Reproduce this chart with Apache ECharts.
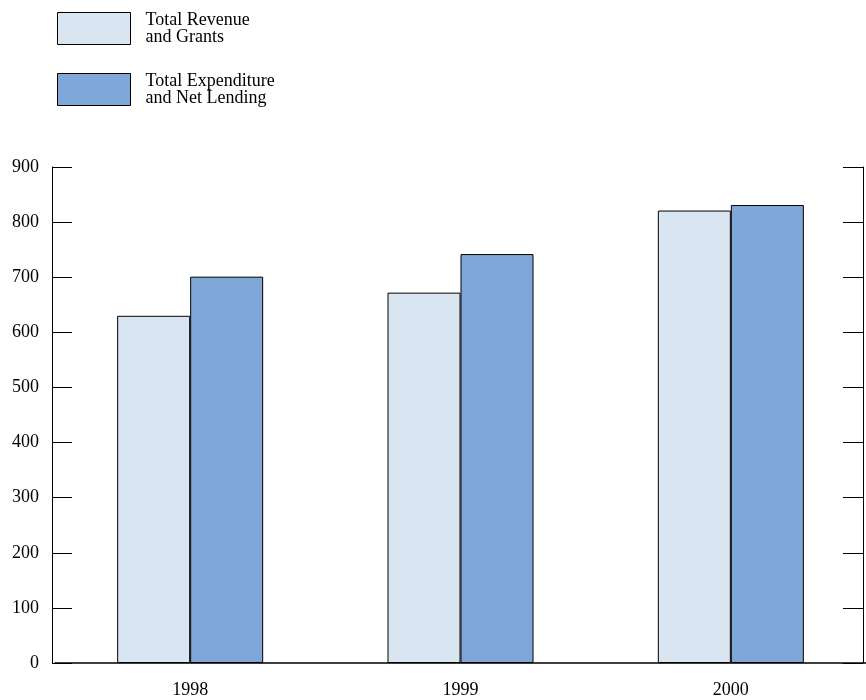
<!DOCTYPE html>
<html>
<head>
<meta charset="utf-8">
<script src="https://cdn.jsdelivr.net/npm/echarts@6/dist/echarts.min.js"></script>
<style>
  html, body { margin: 0; padding: 0; background: #fff; }
  #chart { width: 866px; height: 700px; }
</style>
</head>
<body>
<div id="chart"></div>
<script>
// Fiscal totals by year
const years = ['1998', '1999', '2000'];
const revenueAndGrants = [630, 672, 821];
const expenditureAndNetLending = [701, 742, 831];
const yTicks = [0, 100, 200, 300, 400, 500, 600, 700, 800, 900];

const seriesNames = ['Total Revenue\nand Grants', 'Total Expenditure\nand Net Lending'];
const serif = '"Liberation Serif", "DejaVu Serif", serif';

const chart = echarts.init(document.getElementById('chart'), null, { renderer: 'canvas' });

const valueAxisBase = {
  type: 'value',
  min: yTicks[0],
  max: yTicks[yTicks.length - 1],
  interval: yTicks[1] - yTicks[0],
  splitLine: { show: false },
  axisLine: { show: true, lineStyle: { color: '#000', width: 1 } },
  axisTick: { show: true, inside: true, length: 20, lineStyle: { color: '#000', width: 1 } }
};

chart.setOption({
  animation: false,
  backgroundColor: '#fff',
  legend: {
    orient: 'vertical',
    left: 57,
    top: 10,
    padding: 0,
    itemWidth: 73,
    itemHeight: 32,
    itemGap: 24,
    icon: 'rect',
    selectedMode: false,
    itemStyle: { borderColor: '#000', borderWidth: 1 },
    textStyle: {
      fontFamily: serif,
      fontSize: 18,
      lineHeight: 17,
      color: '#000',
      padding: [3, 0, 0, 10]
    },
    data: seriesNames
  },
  grid: { left: 55, top: 167, width: 822, height: 496, containLabel: false },
  xAxis: {
    type: 'category',
    data: years,
    boundaryGap: true,
    axisLine: { show: true, lineStyle: { color: '#000', width: 1.5 } },
    axisTick: { show: false },
    axisLabel: { margin: 18, fontFamily: serif, fontSize: 18, color: '#000' }
  },
  yAxis: [
    Object.assign({}, valueAxisBase, {
      position: 'left',
      offset: 3,
      axisLabel: { margin: 13, fontFamily: serif, fontSize: 18, color: '#000' }
    }),
    Object.assign({}, valueAxisBase, {
      position: 'right',
      offset: -3,
      axisLabel: { show: false }
    })
  ],
  series: [
    {
      name: seriesNames[0],
      type: 'bar',
      data: revenueAndGrants,
      barWidth: 73,
      barGap: '0%',
      itemStyle: { color: '#dae5f2', borderColor: '#000', borderWidth: 1 }
    },
    {
      name: seriesNames[1],
      type: 'bar',
      data: expenditureAndNetLending,
      barWidth: 73,
      barGap: '0%',
      itemStyle: { color: '#7ea7d8', borderColor: '#000', borderWidth: 1 }
    }
  ]
});
</script>
</body>
</html>
